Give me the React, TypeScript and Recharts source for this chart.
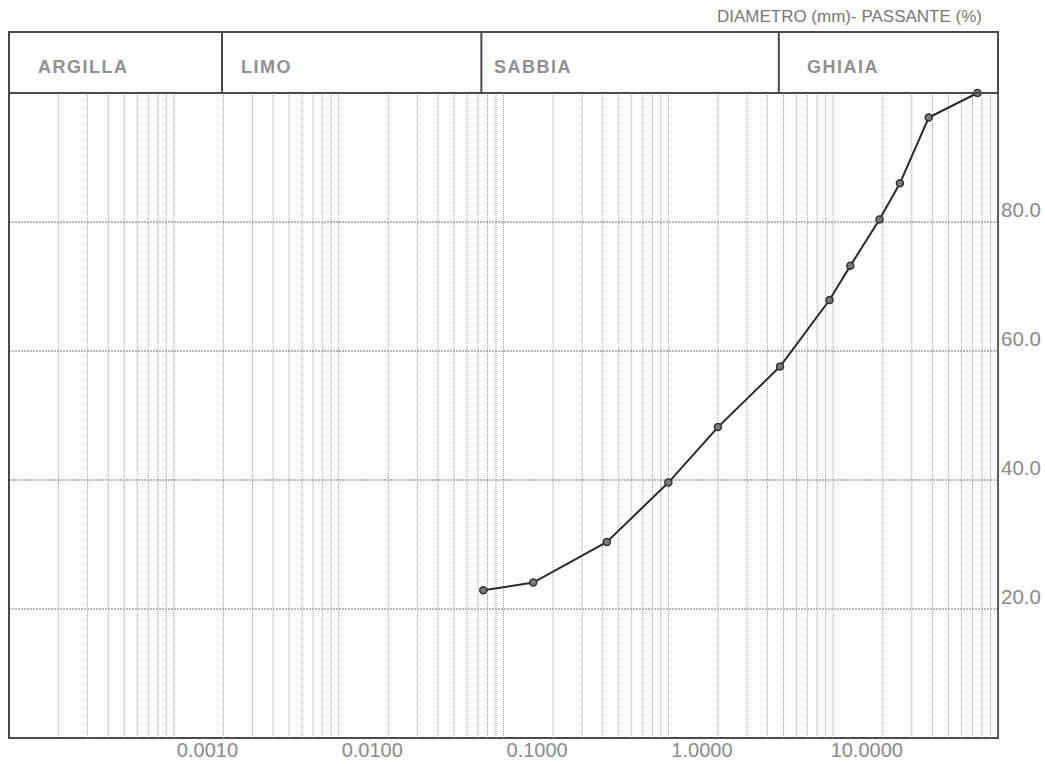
import React from 'react';
import {
  LineChart,
  Line,
  XAxis,
  YAxis,
  CartesianGrid,
  ReferenceLine,
  ReferenceArea,
} from 'recharts';

// sieve diameters (mm) and cumulative passing (%)
const diameters = [0.0377, 0.0757, 0.212, 0.5, 1.0, 2.38, 4.75, 6.35, 9.55, 12.7, 19.0, 37.5];
const passing = [22.9, 24.1, 30.4, 39.6, 48.2, 57.6, 67.9, 73.2, 80.4, 86.0, 96.2, 100.0];

const xTicks = [0.001, 0.01, 0.1, 1, 10];
const yTicks = [20, 40, 60, 80];
const decades = [0.0001, 0.001, 0.01, 0.1, 1, 10];
const gridSteps = [1, 1.5, 2, 2.5, 3, 3.5, 4, 4.5, 5];
const xDomain = [0.00005, 50];

// soil class bands of the header
const classNames = ['ARGILLA', 'LIMO', 'SABBIA', 'GHIAIA'];
const classBoundaries = [0.00098, 0.0367, 2.34];

const FONT = '"Liberation Sans", Arial, sans-serif';
const TEXT = '#8a8a8a';
const FRAME = '#4a4a4a';

const chartData = diameters.map((d, i) => ({ d, p: passing[i] }));
const gridValues = decades.flatMap((dec) => gridSteps.map((s) => +(dec * s).toPrecision(3)));

const W = 1037;
const H = 748;
const HEADER_H = 61;

const XTick = (props: any) => {
  const { x, y, payload } = props;
  return (
    <text x={x - 16} y={y + 19} textAnchor="middle" fontFamily={FONT} fontSize={20} fill={TEXT}>
      {Number(payload.value).toFixed(4)}
    </text>
  );
};

const YTick = (props: any) => {
  const { x, y, payload } = props;
  return (
    <text x={x} y={y - 5} textAnchor="start" fontFamily={FONT} fontSize={20.5} fill={TEXT}>
      {Number(payload.value).toFixed(1)}
    </text>
  );
};

const Separator = (props: any) => {
  const top = Math.min(props.y1, props.y2);
  return <line x1={props.x1} x2={props.x1} y1={top - HEADER_H} y2={top} stroke={FRAME} strokeWidth={2} />;
};

// label x positions inside the header cells
const labelX = [30, 233, 486, 799];

export default function App() {
  return (
    <div style={{ padding: 8, width: 1045, height: 764, boxSizing: 'border-box', background: '#fff' }}>
      <style>
        {'html { overflow: hidden; } body { margin: 0; } .recharts-surface, .recharts-wrapper { overflow: visible !important; }'}
      </style>
      <div style={{ position: 'relative', width: W, height: H }}>
        <LineChart
          width={W}
          height={H}
          data={chartData}
          margin={{ top: 85, right: 0, left: 1, bottom: 0 }}
        >
          <CartesianGrid horizontal vertical={false} stroke="#707070" strokeDasharray="2 1" />
          <XAxis
            dataKey="d"
            type="number"
            scale="log"
            domain={xDomain}
            ticks={xTicks}
            allowDataOverflow
            height={18}
            tickSize={0}
            tickMargin={0}
            axisLine={false}
            tickLine={false}
            tick={<XTick />}
            interval={0}
          />
          <YAxis
            type="number"
            domain={[0, 100]}
            ticks={yTicks}
            orientation="right"
            width={47}
            tickSize={0}
            tickMargin={3}
            axisLine={false}
            tickLine={false}
            tick={<YTick />}
            interval={0}
          />
          {gridValues.map((v) => (
            <ReferenceLine key={`g-${v}`} x={v} stroke="#9a9a9a" strokeDasharray="1 1" strokeWidth={1} />
          ))}
          {classBoundaries.map((v) => (
            <ReferenceLine key={`s-${v}`} x={v} shape={<Separator />} />
          ))}
          <ReferenceArea
            x1={xDomain[0]}
            x2={xDomain[1]}
            y1={0}
            y2={100}
            fill="none"
            stroke={FRAME}
            strokeWidth={2}
            ifOverflow="visible"
          />
          <Line
            dataKey="p"
            type="linear"
            stroke="#2a2a2a"
            strokeWidth={2}
            dot={{ r: 3.5, fill: '#7a7a7a', stroke: '#333', strokeWidth: 1.5 }}
            isAnimationActive={false}
          />
        </LineChart>
        <svg
          width={W}
          height={H}
          style={{ position: 'absolute', left: 0, top: 0, pointerEvents: 'none' }}
        >
          <text x={974} y={14} textAnchor="end" fontFamily={FONT} fontSize={17} fill="#777">
            DIAMETRO (mm)- PASSANTE (%)
          </text>
          <rect x={1} y={24} width={989} height={HEADER_H} fill="none" stroke={FRAME} strokeWidth={2} />
          {classNames.map((name, i) => (
            <text
              key={name}
              x={labelX[i]}
              y={65}
              fontFamily={FONT}
              fontSize={18}
              fontWeight="bold"
              letterSpacing={1.5}
              fill="#909090"
            >
              {name}
            </text>
          ))}
        </svg>
      </div>
    </div>
  );
}
